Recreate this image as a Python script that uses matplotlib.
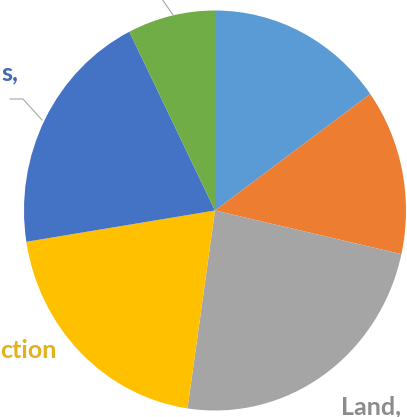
import matplotlib.pyplot as plt

# Slice shares, clockwise from 12 o'clock
sectors = ["Energy", "Industry", "Land", "Production", "Buildings", "Other"]
shares = [15.1, 13.4, 23.8, 20.2, 20.1, 7.4]
colors = ["#5B9BD5", "#ED7D31", "#A5A5A5", "#FFC000", "#4472C4", "#70AD47"]

W, H = 407, 417
# the source image is slightly stretched: pie is an ellipse in pixels
cx, cy, rx, ry = 215, 210.5, 191, 200

fig = plt.figure(figsize=(W / 100, H / 100), dpi=100, facecolor="white")
ax = fig.add_axes([0, 0, 1, 1])

ax.pie(
    shares,
    colors=colors,
    startangle=90,
    counterclock=False,
    center=(0, 0),
    radius=1,
    wedgeprops=dict(linewidth=0),
)
ax.set_aspect("auto")
ax.set_xlim(-cx / rx, (W - cx) / rx)
ax.set_ylim(-(H - cy) / ry, cy / ry)
ax.axis("off")


def px(x, y):
    # pixel position (from top-left) -> data coordinates
    return (x - cx) / rx, (cy - y) / ry


# Data labels, cropped by the picture's edge in the source
font = dict(family=["Lato", "DejaVu Sans"], fontweight="bold", fontsize=18)
ax.text(*px(1, 80), "s,", color="#4468AE", ha="left", va="baseline", **font)
ax.text(*px(0, 358), "ction", color="#E2B21C", ha="left", va="baseline", **font)
ax.text(*px(401, 414), "Land,", color="#8C8C8C", ha="right", va="baseline", **font)

# Leader lines
x1, y1 = zip(px(10, 99), px(23, 99), px(42, 120))
ax.plot(x1, y1, color="#A6A6A6", lw=0.8)
x2, y2 = zip(px(162, -1), px(173, 15))
ax.plot(x2, y2, color="#A6A6A6", lw=0.8)

fig.savefig("out.png", dpi=100, facecolor="white")
